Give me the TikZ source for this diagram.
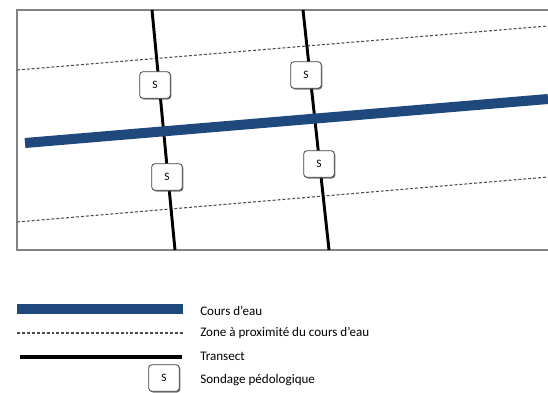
\documentclass[tikz,border=0pt]{standalone}
\usepackage{fontspec}
\setmainfont{Carlito}
\usetikzlibrary{shadows}
\definecolor{river}{RGB}{31,73,125}
\definecolor{framegray}{RGB}{130,130,130}
\begin{document}
\begin{tikzpicture}[x=0.75pt,y=-0.75pt,
  riverline/.style={draw=river,line width=7.5pt},
  zoneline/.style={draw=black!70,line width=0.8pt,dash pattern=on 2.2pt off 1.5pt},
  transectline/.style={draw=black,line width=2.2pt},
  sbox/.style={draw=black!75,fill=white,rounded corners=2.5pt,line width=0.6pt,
    minimum width=23pt,minimum height=20pt,inner sep=0pt,font=\fontsize{8.5}{9}\selectfont,
    drop shadow={shadow xshift=0.8pt,shadow yshift=-0.9pt,opacity=0.7,fill=black!75}},
  legendtext/.style={anchor=west,font=\fontsize{9.8}{11}\selectfont,inner sep=0pt}]
\useasboundingbox (0,0) rectangle (548,392);
\fill[white] (0,0) rectangle (548,392);
% frame
\coordinate (ftr) at (548,10);
\coordinate (ftl) at (17,10);
\coordinate (fbl) at (17,250);
\coordinate (fbr) at (548,250);
\draw[framegray,line width=0.9pt] (ftr) -- (ftl) -- (fbl) -- (fbr);
% zone lines
\coordinate (z1a) at (17,70); \coordinate (z1b) at (548,26);
\coordinate (z2a) at (17,222); \coordinate (z2b) at (548,177);
\draw[zoneline] (z1a) -- (z1b);
\draw[zoneline] (z2a) -- (z2b);
% transects
\coordinate (t1a) at (152,10); \coordinate (t1b) at (175,250);
\coordinate (t2a) at (303,10); \coordinate (t2b) at (329,250);
\draw[transectline] (t1a) -- (t1b);
\draw[transectline] (t2a) -- (t2b);
% river
\coordinate (ra) at (25,143); \coordinate (rb) at (548,99);
\draw[riverline] (ra) -- (rb);
% sondages
\node[sbox] (s1) at (155,85) {S};
\node[sbox] (s2) at (306,75) {S};
\node[sbox] (s3) at (167,177) {S};
\node[sbox] (s4) at (319,164) {S};
% legend
\coordinate (l1a) at (17,309); \coordinate (l1b) at (183,309);
\draw[riverline] (l1a) -- (l1b);
\node[legendtext] (lt1) at (200,311) {Cours d’eau};
\coordinate (l2a) at (17,333); \coordinate (l2b) at (183,333);
\draw[zoneline] (l2a) -- (l2b);
\node[legendtext] (lt2) at (200,333) {Zone à proximité du cours d’eau};
\coordinate (l3a) at (20,357); \coordinate (l3b) at (182,357);
\draw[draw=black,line width=3pt] (l3a) -- (l3b);
\node[legendtext] (lt3) at (200,356) {Transect};
\node[sbox,drop shadow={opacity=0}] (ls) at (164,378) {S};
\node[legendtext] (lt4) at (200,380) {Sondage pédologique};
\end{tikzpicture}
\end{document}
